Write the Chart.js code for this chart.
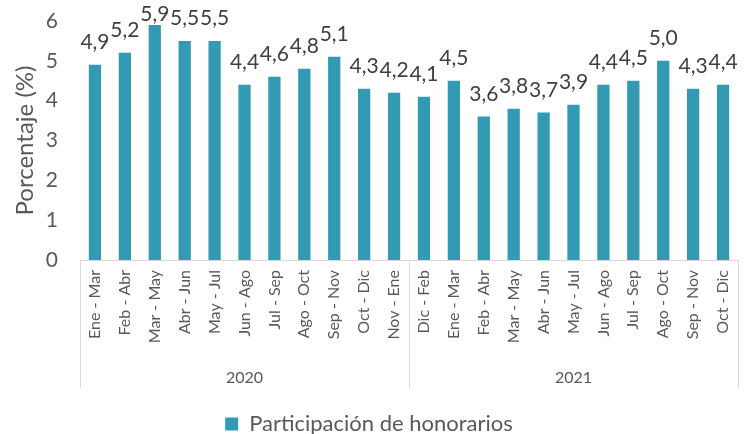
<!DOCTYPE html>
<html>
<head>
<meta charset="utf-8">
<script src="https://cdn.jsdelivr.net/npm/chart.js@4/dist/chart.umd.min.js"></script>
<style>
  html, body { margin: 0; padding: 0; background: #fff; }
  #wrap { width: 745px; height: 434px; }
</style>
</head>
<body>
<div id="wrap"><canvas id="chart" width="745" height="434"></canvas></div>
<script>
// data
var periods = ["Ene - Mar", "Feb - Abr", "Mar - May", "Abr - Jun", "May - Jul", "Jun - Ago",
               "Jul - Sep", "Ago - Oct", "Sep - Nov", "Oct - Dic", "Nov - Ene",
               "Dic - Feb", "Ene - Mar", "Feb - Abr", "Mar - May", "Abr - Jun", "May - Jul",
               "Jun - Ago", "Jul - Sep", "Ago - Oct", "Sep - Nov", "Oct - Dic"];
var values = [4.9, 5.2, 5.9, 5.5, 5.5, 4.4, 4.6, 4.8, 5.1, 4.3, 4.2,
              4.1, 4.5, 3.6, 3.8, 3.7, 3.9, 4.4, 4.5, 5.0, 4.3, 4.4];
var years = ["2020", "2021"];
var yearCounts = [11, 11];
var yTicks = [0, 1, 2, 3, 4, 5, 6];

var fontFamily = "Lato, 'Open Sans', sans-serif";
var barColor = '#329AB3';
var lineColor = '#d9d9d9';

// value labels above bars + year grouping under the axis
var extras = {
    id: 'extras',
    afterDatasetsDraw: function(chart) {
        var ctx = chart.ctx;
        var meta = chart.getDatasetMeta(0);
        ctx.save();
        ctx.font = '21px ' + fontFamily;
        ctx.fillStyle = '#404040';
        ctx.textAlign = 'center';
        ctx.textBaseline = 'alphabetic';
        meta.data.forEach(function(bar, i) {
            // keep the label inside the top of the plot, like Excel does
            var y = Math.max(bar.y - 16, 21);
            ctx.fillText(values[i].toFixed(1).replace('.', ','), bar.x, y);
        });
        ctx.restore();
    },
    afterDraw: function(chart) {
        var ctx = chart.ctx;
        var x = chart.scales.x;
        var top = chart.chartArea.bottom;
        var bottom = top + 128;
        var step = (x.right - x.left) / periods.length;
        ctx.save();
        ctx.strokeStyle = lineColor;
        ctx.lineWidth = 1;
        var start = 0;
        var edges = [x.left];
        yearCounts.forEach(function(n) {
            start += n;
            edges.push(x.left + start * step);
        });
        edges.forEach(function(ex) {
            ctx.beginPath();
            ctx.moveTo(Math.round(ex) + 0.5, top);
            ctx.lineTo(Math.round(ex) + 0.5, bottom);
            ctx.stroke();
        });
        ctx.font = '16px ' + fontFamily;
        ctx.fillStyle = '#595959';
        ctx.textAlign = 'center';
        ctx.textBaseline = 'middle';
        years.forEach(function(y, i) {
            ctx.fillText(y, (edges[i] + edges[i + 1]) / 2, top + 118);
        });
        ctx.restore();
    }
};

new Chart(document.getElementById('chart').getContext('2d'), {
    type: 'bar',
    data: {
        labels: periods,
        datasets: [{
            label: 'Participación de honorarios',
            data: values,
            backgroundColor: barColor,
            borderWidth: 0,
            barPercentage: 0.41,
            categoryPercentage: 1
        }]
    },
    options: {
        responsive: false,
        animation: false,
        layout: { padding: { top: 21, right: 7, left: 0, bottom: -11 } },
        scales: {
            y: {
                min: 0,
                max: 6,
                afterBuildTicks: function(scale) {
                    scale.ticks = yTicks.map(function(v) { return { value: v }; });
                },
                afterFit: function(scale) {
                    scale.width = 80;
                    scale.paddingTop = 0;
                    scale.paddingBottom = 0;
                },
                grid: { display: false, drawTicks: false },
                border: { display: false },
                ticks: {
                    color: '#595959',
                    font: { family: fontFamily, size: 21 },
                    padding: 22
                },
                title: {
                    display: true,
                    text: 'Porcentaje (%)',
                    color: '#595959',
                    font: { family: fontFamily, size: 24 },
                    padding: { top: 11, bottom: 0 }
                }
            },
            x: {
                afterFit: function(scale) {
                    scale.height = 153;
                    scale.paddingLeft = 0;
                    scale.paddingRight = 0;
                },
                grid: { display: false, drawTicks: false },
                border: { display: true, color: lineColor },
                ticks: {
                    color: '#595959',
                    font: { family: fontFamily, size: 16 },
                    minRotation: 90,
                    maxRotation: 90,
                    autoSkip: false,
                    padding: 10
                }
            }
        },
        plugins: {
            legend: {
                position: 'bottom',
                labels: {
                    color: '#595959',
                    font: { family: fontFamily, size: 22 },
                    boxWidth: 13,
                    boxHeight: 13,
                    padding: 0
                }
            },
            tooltip: { enabled: false }
        }
    },
    plugins: [extras]
});
</script>
</body>
</html>
